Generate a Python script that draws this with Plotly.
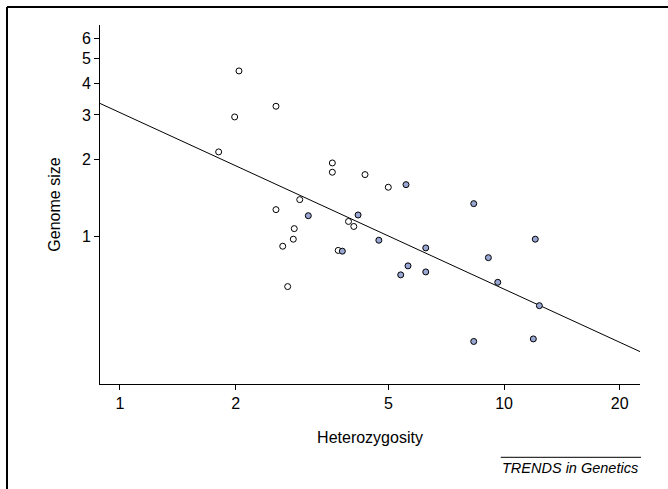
import plotly.graph_objects as go

# Open (white) points
open_het = [2.041, 2.548, 1.989, 1.807, 3.572, 3.572, 4.345, 4.996, 2.938, 2.548,
            3.936, 4.063, 2.843, 2.827, 2.653, 3.700, 2.733]
open_gs = [4.465, 3.246, 2.947, 2.149, 1.945, 1.789, 1.751, 1.562, 1.397, 1.276,
           1.147, 1.096, 1.075, 0.977, 0.917, 0.883, 0.637]

# Filled (blue-grey) points
fill_het = [3.093, 4.168, 4.721, 3.793, 5.556, 8.339, 6.254, 9.103, 12.06, 5.623,
            5.383, 6.254, 9.630, 12.36, 8.339, 11.92]
fill_gs = [1.208, 1.216, 0.968, 0.877, 1.599, 1.347, 0.903, 0.827, 0.977, 0.768,
           0.708, 0.727, 0.662, 0.536, 0.388, 0.397]

# Regression line endpoints
line_het = [0.887, 22.6]
line_gs = [3.33, 0.354]

x_ticks = [1, 2, 5, 10, 20]
y_ticks = [1, 2, 3, 4, 5, 6]

FONT = "Arial, Liberation Sans, sans-serif"

fig = go.Figure()
fig.add_trace(go.Scatter(x=line_het, y=line_gs, mode="lines",
                         line=dict(color="black", width=1), hoverinfo="skip",
                         showlegend=False))
fig.add_trace(go.Scatter(x=open_het, y=open_gs, mode="markers",
                         marker=dict(size=6, color="white",
                                     line=dict(color="black", width=1)),
                         showlegend=False))
fig.add_trace(go.Scatter(x=fill_het, y=fill_gs, mode="markers",
                         marker=dict(size=6, color="#97a6d2",
                                     line=dict(color="black", width=1)),
                         showlegend=False))

fig.update_layout(
    width=668, height=489, autosize=False,
    margin=dict(l=100, r=28, t=25, b=105, pad=0),
    paper_bgcolor="white", plot_bgcolor="white",
    font=dict(family=FONT, size=16, color="black"),
    showlegend=False,
    xaxis=dict(type="log", range=[-0.052, 1.354], tickvals=x_ticks,
               ticktext=[str(v) for v in x_ticks],
               showgrid=False, zeroline=False, showline=True,
               linecolor="black", linewidth=1, ticks="outside", ticklen=5,
               tickwidth=1, tickcolor="black",
               tickfont=dict(family=FONT, size=16, color="black"),
               title=dict(text="Heterozygosity", standoff=20,
                          font=dict(family=FONT, size=16, color="black"))),
    yaxis=dict(type="log", range=[-0.578, 0.830], tickvals=y_ticks,
               ticktext=[str(v) for v in y_ticks],
               showgrid=False, zeroline=False, showline=True,
               linecolor="black", linewidth=1, ticks="outside", ticklen=5,
               tickwidth=1, tickcolor="black",
               tickfont=dict(family=FONT, size=16, color="black"),
               title=dict(text="Genome size", standoff=17,
                          font=dict(family=FONT, size=16, color="black"))),
    shapes=[
        dict(type="line", xref="paper", yref="paper", x0=-0.17222, x1=1.06,
             y0=1.05014, y1=1.05014, line=dict(color="black", width=2)),
        dict(type="line", xref="paper", yref="paper", x0=-0.17222, x1=-0.17222,
             y0=1.05014, y1=-0.30, line=dict(color="black", width=2)),
        dict(type="line", xref="paper", yref="paper", x0=0.74204, x1=1.00185,
             y0=-0.20418, y1=-0.20418, line=dict(color="black", width=1)),
    ],
    annotations=[
        dict(text="<i>TRENDS in Genetics</i>", xref="paper", yref="paper",
             x=1.0, y=-0.23315, xanchor="right", yanchor="middle",
             showarrow=False, font=dict(family=FONT, size=14.5, color="black")),
    ],
)

fig.write_html("out.html", config={"displayModeBar": False},
               post_script="document.body.style.margin='0';document.body.style.padding='0';")
